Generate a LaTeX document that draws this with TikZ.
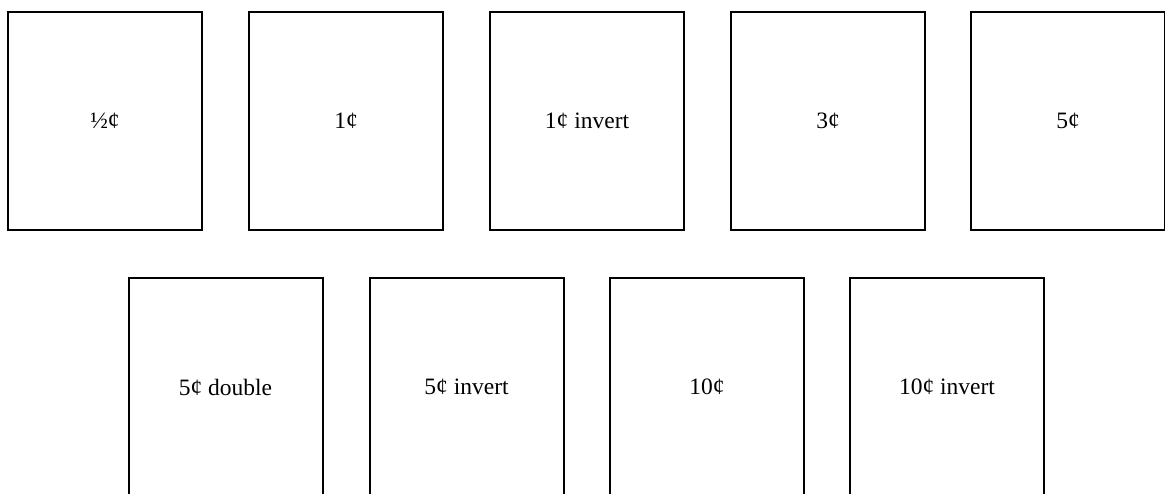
\documentclass[tikz,border=0pt]{standalone}
\usepackage{fontspec}
\setmainfont{Liberation Serif}
\begin{document}
\begin{tikzpicture}[x=1pt,y=-1pt,
  stamp/.style={draw=black, line width=2pt, minimum width=194pt, minimum height=218pt, inner sep=0pt, font=\fontsize{23.5}{26}\selectfont, fill=white}]
\useasboundingbox (0,0) rectangle (1165,493);
\clip (0,0) rectangle (1165,493);
\fill[white] (0,0) rectangle (1165,493);
\node[stamp] (a) at (105,121) {½¢};
\node[stamp] (b) at (346,121) {1¢};
\node[stamp] (c) at (587,121) {1¢ invert};
\node[stamp] (d) at (828,121) {3¢};
\node[stamp] (e) at (1068,121) {5¢};
\node[stamp] (f) at (225.5,387) {5¢ double};
\node[stamp] (g) at (466.5,387) {5¢ invert};
\node[stamp] (h) at (707,387) {10¢};
\node[stamp] (i) at (947,387) {10¢ invert};
\end{tikzpicture}
\end{document}
